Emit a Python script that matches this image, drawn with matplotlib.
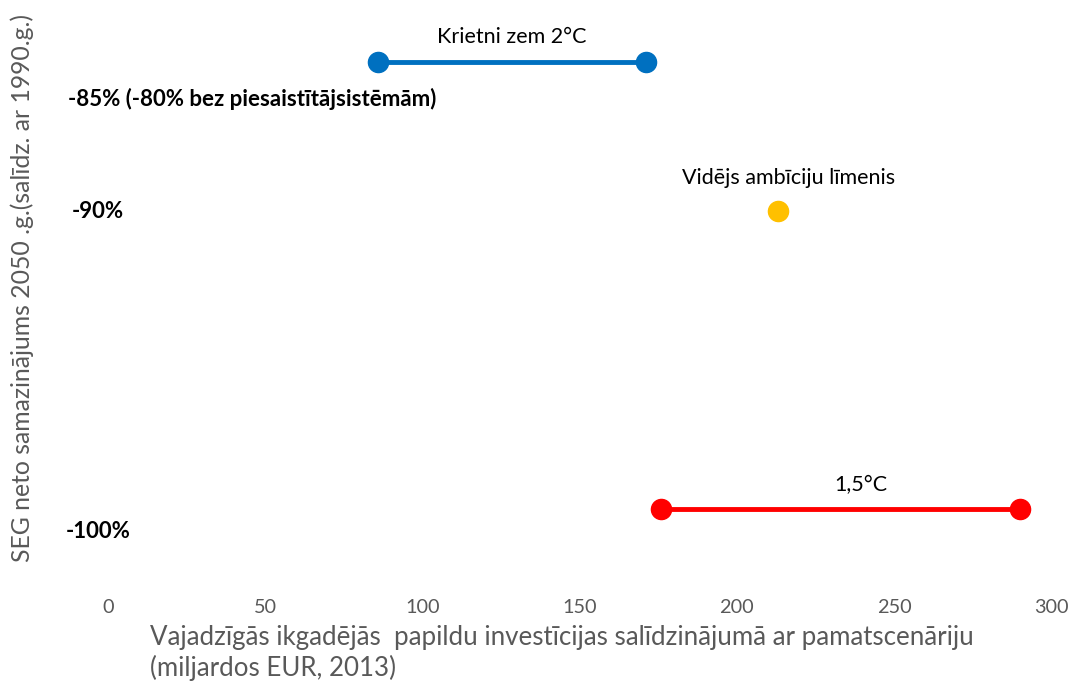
import matplotlib
matplotlib.use("Agg")
import matplotlib.pyplot as plt

# ---- data ----
scenarios = ["Krietni zem 2°C", "Vidējs ambīciju līmenis", "1,5°C"]
reduction = [-85, -90, -100]          # % net GHG reduction 2050 vs 1990
invest_low = [86, 213, 176]           # bn EUR (2013)
invest_high = [171, 213, 290]
colors = ["#0070C0", "#FFC000", "#FF0000"]
level_labels = ["-85% (-80% bez piesaistītājsistēmām)", "-90%", "-100%"]
xticks = [0, 50, 100, 150, 200, 250, 300]

plt.rcParams['font.family'] = ['Lato', 'DejaVu Sans']

fig = plt.figure(figsize=(10.77, 6.81), dpi=100)
ax = fig.add_axes([0.1003, 0.141, 0.8756, 0.844])

for lo, hi, y, c in zip(invest_low, invest_high, reduction, colors):
    if lo == hi:
        ax.plot([lo], [y], 'o', color=c, markersize=14.5, zorder=3)
    else:
        ax.plot([lo, hi], [y, y], '-o', color=c, lw=3.5, markersize=14.5, zorder=3)

# scenario labels
label_x = [(invest_low[0] + invest_high[0]) / 2, invest_low[1] + 3.5, 239.5]
label_off = [25, 33, 24]
for s, x, y, off in zip(scenarios, label_x, reduction, label_off):
    ax.annotate(s, (x, y), xytext=(0, off), textcoords='offset pixels',
                ha='center', va='center', fontsize=15.5, color='black')

# level labels on the left
lvl_x = [-12.7, -11.5, -13.4]
lvl_off = [-37, 0, -22]
for t, x, y, off in zip(level_labels, lvl_x, reduction, lvl_off):
    ax.annotate(t, (x, y), xytext=(0, off), textcoords='offset pixels',
                ha='left', va='center', fontsize=16, fontweight='bold',
                color='black', annotation_clip=False)

ax.set_xlim(0, 300)
ax.set_ylim(-102.55, -83.255)
ax.set_xticks(xticks)
ax.set_yticks([])
ax.tick_params(axis='x', length=0, pad=10, labelsize=14.3, labelcolor='#595959')
for sp in ax.spines.values():
    sp.set_visible(False)

fig.text(150 / 1077, 1 - 638 / 681,
         "Vajadzīgās ikgadējās  papildu investīcijas salīdzinājumā ar pamatscenāriju",
         ha='left', va='center', fontsize=18.6, color='#595959')
fig.text(150 / 1077, 1 - 668 / 681, "(miljardos EUR, 2013)",
         ha='left', va='center', fontsize=18.6, color='#595959')
fig.text(22 / 1077, 1 - 288 / 681,
         "SEG neto samazinājums 2050 .g.(salīdz. ar 1990.g.)",
         ha='center', va='center', rotation=90, fontsize=17.8, color='#595959')

fig.savefig("out.png", dpi=100)
